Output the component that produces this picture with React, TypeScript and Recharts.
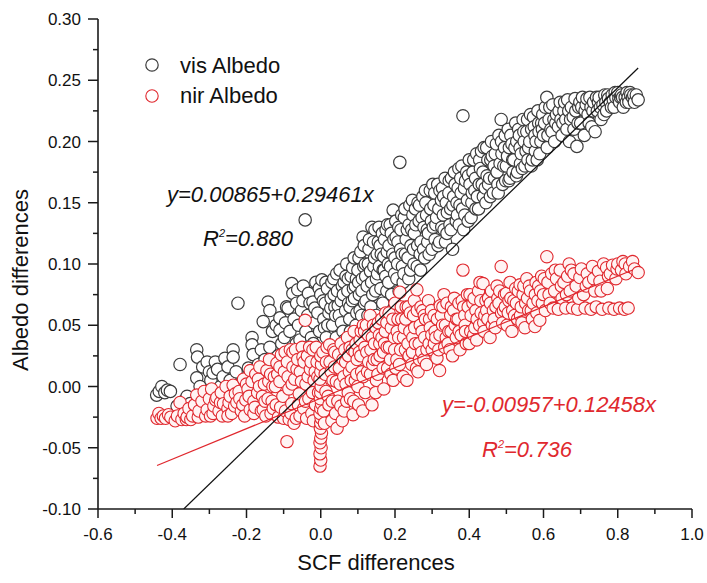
import React from 'react';
import { ScatterChart, Scatter, XAxis, YAxis } from 'recharts';

// ---- tick values ----
const xMajorTicks = [-0.6, -0.4, -0.2, 0.0, 0.2, 0.4, 0.6, 0.8, 1.0];
const xMinorTicks = [-0.5, -0.3, -0.1, 0.1, 0.3, 0.5, 0.7, 0.9];
const yMajorTicks = [-0.1, -0.05, 0.0, 0.05, 0.1, 0.15, 0.2, 0.25, 0.3];
const yMinorTicks = [-0.075, -0.025, 0.025, 0.075, 0.125, 0.175, 0.225, 0.275];

// ---- vis Albedo (SCF diff, Albedo diff) ----
const visAlbedo: [number, number][] = [
  [-0.442,-0.007],[-0.435,-0.004],[-0.428,0.0],[-0.42,-0.005],[-0.413,-0.003],[-0.405,-0.004],
  [-0.387,-0.016],[-0.379,0.018],[-0.37,-0.012],[-0.36,-0.008],[-0.352,-0.014],
  [-0.334,0.030],[-0.332,0.024],[-0.334,0.007],[-0.325,0.0],[-0.318,0.016],[-0.306,0.020],[-0.30,0.012],[-0.296,0.005],[-0.29,0.011],[-0.284,0.02],[-0.278,0.014],[-0.27,0.0],[-0.263,0.008],[-0.258,0.023],[-0.25,0.016],[-0.244,0.005],[-0.236,0.030],[-0.236,0.024],[-0.223,0.068],[-0.228,0.012],[-0.215,0.0],
  [-0.205,0.005],[-0.195,0.015],[-0.185,0.040],[-0.185,0.034],[-0.182,0.026],[-0.175,0.008],[-0.168,0.018],[-0.16,0.03],[-0.155,0.053],[-0.15,0.022],[-0.142,0.069],[-0.137,0.062],[-0.137,0.032],[-0.13,0.045],[-0.125,0.015],[-0.12,0.05],[-0.115,0.025],[-0.11,0.056],[-0.11,0.046],[-0.105,0.035],[-0.098,0.04],[-0.095,0.052],[-0.092,0.065],[-0.088,0.064],[-0.083,0.045],[-0.08,0.028],[-0.078,0.084],[-0.075,0.076],[-0.072,0.055],[-0.066,0.035],[-0.065,0.068],[-0.062,0.079],[-0.06,0.05],[-0.056,0.038],[-0.052,0.062],[-0.048,0.07],[-0.047,0.082],[-0.045,0.025],[-0.042,0.136],[-0.04,0.045],[-0.035,0.058],[-0.033,0.076],[-0.029,0.068],[-0.025,0.04],[-0.021,0.069],[-0.02,0.035],[-0.018,0.052],[-0.016,0.064],[-0.013,0.085],[-0.01,0.03],[-0.008,0.06],[-0.004,0.08],[-0.003,0.045],
  [0.0,0.075],[0.003,0.087],[0.005,0.02],[0.007,0.07],[0.008,0.055],[0.01,0.048],[0.012,0.068],[0.014,0.085],[0.015,0.04],[0.018,0.08],[0.019,0.05],[0.02,0.025],[0.022,0.06],[0.025,0.03],[0.027,0.064],[0.028,0.072],[0.03,0.085],[0.032,0.05],[0.035,0.088],[0.036,0.075],[0.038,0.065],[0.04,0.058],[0.042,0.04],[0.043,0.092],[0.045,0.078],[0.047,0.066],[0.048,0.03],[0.05,0.058],[0.052,0.095],[0.055,0.07],[0.056,0.052],[0.058,0.082],[0.06,0.045],[0.061,0.075],[0.063,0.085],[0.065,0.038],[0.067,0.062],[0.068,0.09],[0.07,0.1],[0.073,0.078],[0.074,0.088],[0.075,0.068],[0.078,0.055],[0.079,0.065],[0.08,0.045],[0.082,0.09],[0.085,0.07],[0.086,0.097],[0.088,0.08],[0.09,0.105],[0.091,0.072],[0.093,0.082],[0.095,0.05],[0.096,0.088],[0.097,0.06],
  [0.1,0.095],[0.102,0.085],[0.103,0.105],[0.104,0.075],[0.106,0.062],[0.108,0.11],[0.11,0.058],[0.111,0.078],[0.112,0.088],[0.114,0.122],[0.116,0.098],[0.117,0.115],[0.118,0.068],[0.12,0.1],[0.121,0.09],[0.122,0.07],[0.125,0.082],[0.127,0.058],[0.128,0.1],[0.13,0.112],[0.131,0.12],[0.134,0.094],[0.135,0.065],[0.137,0.085],[0.138,0.13],[0.14,0.075],[0.142,0.118],[0.143,0.098],[0.145,0.105],[0.146,0.128],[0.148,0.078],[0.149,0.058],[0.15,0.088],[0.152,0.108],[0.153,0.092],[0.155,0.118],[0.157,0.13],[0.158,0.098],[0.16,0.115],[0.162,0.08],[0.163,0.108],[0.166,0.125],[0.167,0.068],[0.168,0.095],[0.17,0.106],[0.171,0.095],[0.172,0.12],[0.175,0.09],[0.176,0.128],[0.178,0.078],[0.179,0.11],[0.18,0.132],[0.182,0.1],[0.183,0.085],[0.184,0.115],[0.187,0.132],[0.188,0.098],[0.19,0.125],[0.191,0.075],[0.194,0.108],[0.195,0.144],[0.197,0.12],[0.199,0.092],
  [0.2,0.105],[0.202,0.135],[0.203,0.122],[0.205,0.088],[0.207,0.1],[0.208,0.118],[0.21,0.13],[0.211,0.078],[0.213,0.183],[0.215,0.112],[0.216,0.128],[0.218,0.14],[0.219,0.108],[0.22,0.098],[0.222,0.085],[0.224,0.092],[0.225,0.138],[0.227,0.145],[0.228,0.108],[0.23,0.12],[0.233,0.128],[0.235,0.105],[0.237,0.088],[0.238,0.132],[0.24,0.148],[0.242,0.095],[0.243,0.115],[0.245,0.128],[0.247,0.152],[0.248,0.14],[0.25,0.112],[0.251,0.1],[0.252,0.125],[0.255,0.145],[0.256,0.132],[0.26,0.098],[0.261,0.115],[0.262,0.15],[0.265,0.135],[0.266,0.148],[0.268,0.108],[0.269,0.095],[0.27,0.118],[0.273,0.138],[0.275,0.155],[0.277,0.112],[0.278,0.13],[0.28,0.105],[0.282,0.16],[0.283,0.15],[0.285,0.14],[0.287,0.128],[0.288,0.118],[0.29,0.125],[0.292,0.108],[0.295,0.16],[0.296,0.145],[0.298,0.135],
  [0.3,0.112],[0.302,0.165],[0.303,0.13],[0.305,0.148],[0.307,0.158],[0.308,0.12],[0.31,0.132],[0.312,0.138],[0.315,0.165],[0.316,0.115],[0.318,0.145],[0.32,0.118],[0.321,0.16],[0.325,0.152],[0.326,0.13],[0.328,0.162],[0.33,0.14],[0.331,0.155],[0.332,0.128],[0.335,0.17],[0.336,0.118],[0.338,0.15],[0.34,0.125],[0.341,0.142],[0.345,0.158],[0.346,0.168],[0.348,0.132],[0.35,0.145],[0.351,0.128],[0.352,0.17],[0.355,0.112],[0.356,0.148],[0.358,0.155],[0.36,0.175],[0.362,0.165],[0.365,0.135],[0.367,0.15],[0.368,0.14],[0.37,0.162],[0.372,0.178],[0.373,0.132],[0.375,0.148],[0.377,0.17],[0.378,0.158],[0.38,0.18],[0.382,0.145],[0.383,0.221],[0.385,0.128],[0.387,0.162],[0.388,0.14],[0.39,0.168],[0.393,0.175],[0.395,0.152],[0.397,0.135],[0.398,0.172],
  [0.4,0.185],[0.402,0.165],[0.405,0.138],[0.407,0.15],[0.408,0.158],[0.41,0.175],[0.412,0.185],[0.415,0.16],[0.417,0.17],[0.418,0.145],[0.42,0.19],[0.422,0.155],[0.425,0.145],[0.427,0.165],[0.428,0.185],[0.43,0.178],[0.433,0.192],[0.435,0.165],[0.437,0.175],[0.438,0.155],[0.44,0.195],[0.443,0.162],[0.445,0.15],[0.447,0.195],[0.448,0.172],[0.45,0.185],[0.452,0.165],[0.455,0.17],[0.457,0.155],[0.458,0.185],[0.46,0.2],[0.462,0.188],[0.465,0.158],[0.467,0.18],[0.468,0.17],[0.47,0.19],[0.473,0.198],[0.475,0.175],[0.477,0.165],[0.478,0.158],[0.48,0.205],[0.483,0.182],[0.486,0.218],[0.487,0.2],[0.488,0.19],[0.49,0.165],[0.493,0.18],[0.495,0.195],[0.497,0.205],[0.498,0.168],
  [0.5,0.18],[0.503,0.188],[0.505,0.21],[0.507,0.168],[0.508,0.195],[0.51,0.17],[0.512,0.205],[0.515,0.198],[0.517,0.185],[0.518,0.175],[0.52,0.185],[0.523,0.195],[0.525,0.215],[0.527,0.172],[0.528,0.2],[0.53,0.175],[0.533,0.21],[0.535,0.205],[0.537,0.195],[0.538,0.182],[0.54,0.19],[0.543,0.178],[0.545,0.218],[0.547,0.208],[0.548,0.2],[0.55,0.18],[0.553,0.192],[0.555,0.208],[0.557,0.218],[0.558,0.185],[0.56,0.195],[0.563,0.2],[0.565,0.222],[0.567,0.18],[0.568,0.21],[0.57,0.185],[0.573,0.22],[0.575,0.212],[0.577,0.205],[0.578,0.192],[0.58,0.2],[0.583,0.185],[0.585,0.225],[0.587,0.215],[0.588,0.208],[0.59,0.19],[0.593,0.2],[0.595,0.215],[0.597,0.21],[0.598,0.222],
  [0.6,0.205],[0.603,0.215],[0.605,0.228],[0.609,0.236],[0.61,0.195],[0.612,0.205],[0.615,0.218],[0.617,0.228],[0.62,0.21],[0.623,0.208],[0.625,0.23],[0.628,0.218],[0.63,0.2],[0.633,0.215],[0.635,0.222],[0.64,0.212],[0.642,0.225],[0.645,0.232],[0.647,0.218],[0.65,0.205],[0.652,0.215],[0.655,0.225],[0.657,0.232],[0.66,0.218],[0.663,0.21],[0.665,0.234],[0.668,0.225],[0.67,0.2],[0.673,0.218],[0.675,0.228],[0.68,0.22],[0.682,0.21],[0.685,0.235],[0.687,0.225],[0.69,0.196],[0.693,0.215],[0.695,0.228],[0.698,0.232],
  [0.7,0.215],[0.703,0.228],[0.705,0.236],[0.71,0.205],[0.712,0.225],[0.715,0.23],[0.717,0.235],[0.72,0.222],[0.723,0.215],[0.725,0.236],[0.728,0.228],[0.73,0.212],[0.733,0.225],[0.735,0.232],[0.739,0.208],[0.743,0.236],[0.745,0.225],[0.748,0.232],[0.75,0.236],[0.753,0.228],[0.755,0.218],[0.76,0.23],[0.763,0.222],[0.765,0.238],[0.768,0.232],[0.77,0.225],[0.773,0.238],[0.775,0.235],[0.78,0.232],[0.783,0.228],[0.785,0.238],[0.788,0.234],[0.79,0.228],[0.793,0.24],[0.795,0.236],
  [0.8,0.24],[0.803,0.235],[0.805,0.232],[0.808,0.236],[0.81,0.238],[0.813,0.236],[0.815,0.228],[0.82,0.236],[0.823,0.232],[0.825,0.24],[0.828,0.236],[0.83,0.232],[0.833,0.24],[0.835,0.238],[0.84,0.236],[0.843,0.238],[0.845,0.232],[0.85,0.238],[0.855,0.234],
];

// ---- nir Albedo ----
const nirAlbedo: [number, number][] = [
  [-0.441,-0.026],[-0.436,-0.022],[-0.43,-0.026],[-0.424,-0.024],[-0.418,-0.026],[-0.41,-0.023],[-0.404,-0.025],
  [-0.392,-0.028],[-0.386,-0.024],[-0.379,-0.013],[-0.374,-0.027],[-0.368,-0.022],[-0.362,-0.027],[-0.36,-0.025],[-0.355,-0.018],[-0.35,-0.027],[-0.345,-0.024],[-0.34,-0.015],[-0.334,-0.007],[-0.33,-0.025],[-0.328,-0.02],[-0.32,-0.012],[-0.314,-0.004],[-0.31,-0.024],[-0.306,-0.019],[-0.3,-0.01],[-0.297,-0.024],[-0.294,-0.002],[-0.29,-0.022],[-0.288,-0.016],[-0.283,-0.011],[-0.28,-0.009],[-0.274,-0.02],[-0.27,-0.013],[-0.268,-0.005],[-0.265,-0.024],[-0.262,-0.014],[-0.255,0.0],[-0.25,-0.018],[-0.25,-0.024],[-0.247,-0.013],[-0.244,-0.008],[-0.24,-0.022],[-0.236,0.001],[-0.232,-0.016],[-0.23,-0.006],[-0.226,-0.013],[-0.22,-0.004],[-0.218,-0.01],[-0.214,-0.02],[-0.21,-0.015],[-0.208,0.006],[-0.205,-0.024],[-0.202,-0.011],
  [-0.2,0.002],[-0.196,-0.002],[-0.193,-0.008],[-0.19,-0.019],[-0.19,0.013],[-0.185,0.004],[-0.18,-0.012],[-0.18,-0.022],[-0.177,-0.017],[-0.175,0.01],[-0.17,-0.005],[-0.168,0.006],[-0.165,0.0],[-0.164,0.016],[-0.16,-0.02],[-0.157,-0.008],[-0.155,-0.019],[-0.152,0.002],[-0.15,-0.012],[-0.148,-0.024],[-0.145,0.013],[-0.142,-0.01],[-0.14,0.004],[-0.138,0.022],[-0.135,0.01],[-0.134,-0.022],[-0.131,-0.012],[-0.129,0.0],[-0.128,-0.018],[-0.125,0.008],[-0.122,0.0],[-0.12,-0.015],[-0.118,0.019],[-0.116,0.01],[-0.114,-0.025],[-0.11,0.004],[-0.11,0.016],[-0.108,-0.017],[-0.106,0.026],[-0.102,-0.008],[-0.1,-0.026],
  [-0.098,0.012],[-0.096,0.028],[-0.095,-0.02],[-0.091,-0.045],[-0.09,0.02],[-0.088,0.008],[-0.086,-0.002],[-0.085,-0.027],[-0.082,0.03],[-0.08,-0.022],[-0.078,-0.014],[-0.077,0.002],[-0.075,0.016],[-0.075,0.028],[-0.072,-0.03],[-0.07,0.006],[-0.068,0.03],[-0.066,-0.026],[-0.064,0.014],[-0.062,0.022],[-0.06,-0.015],[-0.058,-0.006],[-0.056,-0.024],[-0.055,0.012],[-0.052,0.004],[-0.05,0.032],[-0.048,0.024],[-0.046,-0.018],[-0.045,0.02],[-0.042,0.054],[-0.041,-0.012],[-0.04,0.002],[-0.038,-0.026],[-0.036,0.025],[-0.034,0.008],[-0.032,-0.01],[-0.03,0.032],[-0.028,0.014],[-0.026,0.02],[-0.024,-0.022],[-0.022,-0.005],[-0.021,0.03],[-0.02,-0.028],[-0.018,0.005],[-0.015,0.012],[-0.014,-0.015],[-0.012,0.032],[-0.01,0.02],[-0.008,0.008],[-0.006,-0.005],
  [-0.002,-0.065],[0.0,-0.06],[-0.002,-0.055],[0.001,-0.05],[-0.002,-0.046],[0.0,-0.042],[0.002,-0.038],[-0.001,-0.034],[0.0,-0.03],[0.001,-0.026],[-0.002,-0.022],[0.0,-0.018],[0.002,-0.014],[-0.001,-0.01],[0.0,-0.005],[0.001,0.0],[-0.002,0.006],[0.0,0.012],[0.002,0.018],[0.0,0.025],
  [0.006,0.028],[0.008,-0.02],[0.01,-0.03],[0.012,0.01],[0.014,-0.004],[0.015,0.02],[0.017,0.032],[0.02,-0.008],[0.022,-0.015],[0.024,0.034],[0.025,0.02],[0.028,0.012],[0.03,-0.028],[0.031,-0.012],[0.033,0.005],[0.035,0.03],[0.037,0.016],[0.038,0.028],[0.04,-0.022],[0.042,0.004],[0.044,-0.034],[0.046,-0.012],[0.048,0.026],[0.05,0.015],[0.052,0.002],[0.054,-0.016],[0.055,0.035],[0.058,-0.028],[0.06,0.022],[0.062,0.008],[0.063,-0.02],[0.065,0.03],[0.067,0.02],[0.068,0.002],[0.07,-0.012],[0.072,0.04],[0.074,-0.005],[0.075,0.025],[0.077,0.012],[0.079,0.032],[0.08,-0.01],[0.082,0.005],[0.084,0.016],[0.085,0.03],[0.087,-0.023],[0.089,-0.012],[0.09,0.045],[0.092,0.028],[0.093,0.005],[0.095,0.035],[0.097,0.01],[0.098,0.022],
  [0.1,0.0],[0.102,-0.015],[0.104,0.028],[0.106,0.038],[0.108,0.025],[0.109,0.045],[0.11,0.012],[0.113,-0.02],[0.114,0.008],[0.115,0.05],[0.118,0.045],[0.119,0.032],[0.12,-0.005],[0.123,0.05],[0.124,0.028],[0.126,0.012],[0.128,0.042],[0.129,0.02],[0.133,0.058],[0.134,0.01],[0.135,0.03],[0.138,-0.015],[0.139,0.04],[0.14,0.018],[0.142,0.05],[0.144,0.022],[0.145,0.035],[0.148,-0.005],[0.149,0.048],[0.15,0.005],[0.152,0.022],[0.154,0.01],[0.155,0.052],[0.158,0.042],[0.159,0.035],[0.16,0.025],[0.164,0.055],[0.165,0.04],[0.168,0.015],[0.169,0.028],[0.17,-0.002],[0.172,0.035],[0.174,0.045],[0.175,0.06],[0.178,0.052],[0.179,0.032],[0.18,0.015],[0.184,0.06],[0.185,0.032],[0.188,0.022],[0.189,0.01],[0.19,0.048],[0.194,0.055],[0.195,0.005],[0.198,0.04],[0.199,0.03],
  [0.2,0.068],[0.202,0.015],[0.205,0.022],[0.206,0.045],[0.208,0.055],[0.21,0.04],[0.212,0.018],[0.213,0.077],[0.215,0.03],[0.217,0.065],[0.218,0.055],[0.222,0.008],[0.223,0.04],[0.225,0.048],[0.228,0.03],[0.229,0.055],[0.23,0.065],[0.232,0.005],[0.235,0.035],[0.236,0.065],[0.238,0.025],[0.24,0.045],[0.241,0.06],[0.245,0.018],[0.247,0.028],[0.248,0.04],[0.25,0.058],[0.252,0.07],[0.253,0.048],[0.255,0.035],[0.258,0.015],[0.259,0.079],[0.26,0.062],[0.262,0.012],[0.265,0.035],[0.266,0.022],[0.268,0.05],[0.27,0.065],[0.272,0.028],[0.273,0.045],[0.275,0.062],[0.278,0.022],[0.279,0.058],[0.28,0.04],[0.282,0.055],[0.285,0.018],[0.286,0.03],[0.29,0.07],[0.292,0.035],[0.293,0.055],[0.295,0.048],[0.298,0.062],[0.299,0.042],
  [0.3,0.03],[0.305,0.058],[0.306,0.035],[0.308,0.045],[0.31,0.04],[0.313,0.023],[0.314,0.055],[0.318,0.03],[0.32,0.013],[0.321,0.042],[0.322,0.066],[0.325,0.058],[0.328,0.05],[0.329,0.065],[0.332,0.075],[0.334,0.032],[0.336,0.05],[0.338,0.04],[0.34,0.068],[0.343,0.035],[0.345,0.045],[0.348,0.03],[0.35,0.058],[0.351,0.045],[0.352,0.065],[0.355,0.025],[0.358,0.062],[0.36,0.072],[0.362,0.05],[0.365,0.04],[0.366,0.055],[0.37,0.055],[0.372,0.068],[0.373,0.045],[0.375,0.03],[0.378,0.042],[0.381,0.07],[0.383,0.095],[0.385,0.065],[0.388,0.058],[0.389,0.05],[0.39,0.045],[0.392,0.035],[0.395,0.075],[0.397,0.065],
  [0.4,0.035],[0.402,0.075],[0.404,0.045],[0.405,0.058],[0.41,0.068],[0.412,0.042],[0.413,0.072],[0.415,0.048],[0.418,0.062],[0.42,0.038],[0.421,0.055],[0.425,0.078],[0.428,0.05],[0.429,0.085],[0.431,0.07],[0.432,0.06],[0.437,0.084],[0.439,0.052],[0.44,0.045],[0.442,0.058],[0.445,0.07],[0.447,0.062],[0.45,0.055],[0.452,0.072],[0.456,0.04],[0.457,0.068],[0.46,0.078],[0.462,0.05],[0.465,0.062],[0.467,0.055],[0.47,0.048],[0.472,0.065],[0.475,0.082],[0.477,0.072],[0.48,0.068],[0.482,0.078],[0.486,0.098],[0.487,0.06],[0.49,0.052],[0.492,0.062],[0.495,0.075],[0.497,0.065],
  [0.5,0.076],[0.502,0.05],[0.505,0.06],[0.507,0.07],[0.51,0.085],[0.512,0.072],[0.515,0.045],[0.517,0.062],[0.52,0.07],[0.522,0.058],[0.525,0.08],[0.527,0.068],[0.53,0.055],[0.532,0.078],[0.537,0.083],[0.538,0.058],[0.54,0.065],[0.542,0.052],[0.545,0.075],[0.547,0.082],[0.55,0.048],[0.552,0.068],[0.555,0.088],[0.557,0.072],[0.56,0.062],[0.562,0.082],[0.565,0.078],[0.567,0.062],[0.57,0.055],[0.572,0.068],[0.577,0.049],[0.578,0.075],[0.58,0.085],[0.582,0.06],[0.585,0.07],[0.587,0.082],[0.59,0.054],[0.592,0.078],[0.595,0.09],[0.597,0.068],
  [0.6,0.075],[0.602,0.088],[0.605,0.062],[0.609,0.106],[0.612,0.085],[0.615,0.075],[0.618,0.068],[0.622,0.092],[0.626,0.064],[0.63,0.078],[0.632,0.095],[0.635,0.088],[0.64,0.063],[0.645,0.095],[0.648,0.082],[0.65,0.072],[0.655,0.085],[0.66,0.064],[0.662,0.075],[0.665,0.09],[0.669,0.1],[0.672,0.078],[0.675,0.095],[0.678,0.064],[0.682,0.092],[0.688,0.082],[0.692,0.063],[0.695,0.072],[0.698,0.089],
  [0.702,0.096],[0.708,0.075],[0.712,0.064],[0.715,0.082],[0.718,0.092],[0.722,0.085],[0.728,0.063],[0.732,0.098],[0.735,0.088],[0.738,0.078],[0.742,0.065],[0.748,0.094],[0.752,0.086],[0.755,0.078],[0.758,0.063],[0.762,0.1],[0.77,0.097],[0.772,0.08],[0.775,0.09],[0.776,0.064],[0.78,0.092],[0.786,0.099],[0.79,0.063],[0.795,0.088],[0.798,0.096],
  [0.8,0.1],[0.805,0.064],[0.81,0.095],[0.814,0.102],[0.818,0.063],[0.82,0.1],[0.822,0.092],[0.828,0.064],[0.832,0.098],[0.84,0.102],[0.845,0.096],[0.855,0.093],
];

// ---- fitted lines (end points) ----
const visFit: [number, number][] = [[-0.369, -0.1], [0.855, 0.26]];
const nirFit: [number, number][] = [[-0.441, -0.0645], [0.84, 0.0951]];

const toXY = (arr: [number, number][]) => arr.map(([x, y]) => ({ x, y }));
const visData = toXY(visAlbedo);
const nirData = toXY(nirAlbedo);
const visFitData = toXY(visFit);
const nirFitData = toXY(nirFit);

const FONT = '"Liberation Sans", Arial, sans-serif';
const AXIS = '#1a1a1a';
const RED = '#e0282e';
const VIS_STROKE = '#3c3c3c';
const R = 6.2;

const near = (v: number, list: number[]) => list.some((t) => Math.abs(t - v) < 1e-6);
const xTicks = [...xMajorTicks, ...xMinorTicks].sort((a, b) => a - b);
const yTicks = [...yMajorTicks, ...yMinorTicks].sort((a, b) => a - b);

const BottomTick = (p: any) => {
  const v = p.payload.value;
  const major = near(v, xMajorTicks);
  return (
    <g>
      <line x1={p.x} x2={p.x} y1={p.y} y2={p.y + (major ? 9 : 5)} stroke={AXIS} strokeWidth={1.5} />
      {major && (
        <text x={p.x} y={p.y + 31} textAnchor="middle" fontSize={17} fontFamily={FONT} fill="#111">
          {v.toFixed(1)}
        </text>
      )}
    </g>
  );
};
const TopTick = (p: any) => {
  const major = near(p.payload.value, xMajorTicks);
  return <line x1={p.x} x2={p.x} y1={p.y} y2={p.y + (major ? 9 : 5)} stroke={AXIS} strokeWidth={1.5} />;
};
const LeftTick = (p: any) => {
  const v = p.payload.value;
  const major = near(v, yMajorTicks);
  return (
    <g>
      <line x1={p.x} x2={p.x - (major ? 10 : 5)} y1={p.y} y2={p.y} stroke={AXIS} strokeWidth={1.5} />
      {major && (
        <text x={p.x - 17} y={p.y + 6} textAnchor="end" fontSize={17} fontFamily={FONT} fill="#111">
          {v.toFixed(2)}
        </text>
      )}
    </g>
  );
};
const RightTick = (p: any) => {
  const major = near(p.payload.value, yMajorTicks);
  return <line x1={p.x} x2={p.x - (major ? 9 : 5)} y1={p.y} y2={p.y} stroke={AXIS} strokeWidth={1.5} />;
};

const visShape = (p: any) => (
  <circle cx={p.cx} cy={p.cy} r={R} fill="#ffffff" stroke={VIS_STROKE} strokeWidth={1.2} />
);
const nirShape = (p: any) => (
  <circle cx={p.cx} cy={p.cy} r={R} fill="#fff3f3" stroke={RED} strokeWidth={1.1} />
);
const noShape = () => <g />;

export default function App() {
  return (
    <div style={{ position: 'absolute', left: 0, top: 0, width: 707, height: 583, background: '#fff' }}>
      <ScatterChart width={707} height={583} margin={{ top: 19, right: 15, bottom: 24, left: 38 }}>
        <XAxis
          type="number" dataKey="x" domain={[-0.6, 1.0]} ticks={xTicks} interval={0}
          allowDataOverflow height={50} tickSize={0} tickMargin={0} tickLine={false}
          axisLine={{ stroke: AXIS, strokeWidth: 1.6 }} tick={BottomTick}
        />
        <XAxis
          xAxisId="top" orientation="top" type="number" dataKey="x" domain={[-0.6, 1.0]} ticks={xTicks}
          interval={0} allowDataOverflow height={0} tickSize={0} tickMargin={0} tickLine={false}
          axisLine={{ stroke: AXIS, strokeWidth: 1.6 }} tick={TopTick}
        />
        <YAxis
          type="number" dataKey="y" domain={[-0.1, 0.3]} ticks={yTicks} interval={0}
          allowDataOverflow width={60} tickSize={0} tickMargin={0} tickLine={false}
          axisLine={{ stroke: AXIS, strokeWidth: 1.6 }} tick={LeftTick}
        />
        <YAxis
          yAxisId="right" orientation="right" type="number" dataKey="y" domain={[-0.1, 0.3]} ticks={yTicks}
          interval={0} allowDataOverflow width={0} tickSize={0} tickMargin={0} tickLine={false}
          axisLine={{ stroke: AXIS, strokeWidth: 1.6 }} tick={RightTick}
        />
        <Scatter name="vis Albedo" data={visData} isAnimationActive={false} shape={visShape} />
        <Scatter name="nir Albedo" data={nirData} isAnimationActive={false} shape={nirShape} />
        <Scatter
          name="vis fit" data={visFitData} isAnimationActive={false} shape={noShape}
          line={{ stroke: '#111', strokeWidth: 1.2 }} legendType="none"
        />
        <Scatter
          name="nir fit" data={nirFitData} isAnimationActive={false} shape={noShape}
          line={{ stroke: RED, strokeWidth: 1.3 }} legendType="none"
        />
      </ScatterChart>
      <svg width={707} height={583} style={{ position: 'absolute', left: 0, top: 0, pointerEvents: 'none' }}>
        <g fontFamily={FONT}>
          <text transform="translate(28,280) rotate(-90)" textAnchor="middle" fontSize={22} fill="#111">
            Albedo differences
          </text>
          <text x={376} y={570} textAnchor="middle" fontSize={22} fill="#111">SCF differences</text>

          <circle cx={152} cy={65} r={R} fill="none" stroke={VIS_STROKE} strokeWidth={1.2} />
          <text x={180} y={73} fontSize={22} fill="#111">vis Albedo</text>
          <circle cx={152} cy={96} r={R} fill="none" stroke={RED} strokeWidth={1.1} />
          <text x={180} y={103} fontSize={22} fill="#111">nir Albedo</text>

          <text x={167} y={202} fontSize={22} fontStyle="italic" fill="#111">y=0.00865+0.29461x</text>
          <text x={203} y={246} fontSize={22} fontStyle="italic" fill="#111">
            R<tspan dy={-9} fontSize={11}>2</tspan><tspan dy={9}>=0.880</tspan>
          </text>
          <text x={442} y={412} fontSize={22} fontStyle="italic" fill={RED}>y=-0.00957+0.12458x</text>
          <text x={482} y={457} fontSize={22} fontStyle="italic" fill={RED}>
            R<tspan dy={-9} fontSize={11}>2</tspan><tspan dy={9}>=0.736</tspan>
          </text>
        </g>
      </svg>
    </div>
  );
}
